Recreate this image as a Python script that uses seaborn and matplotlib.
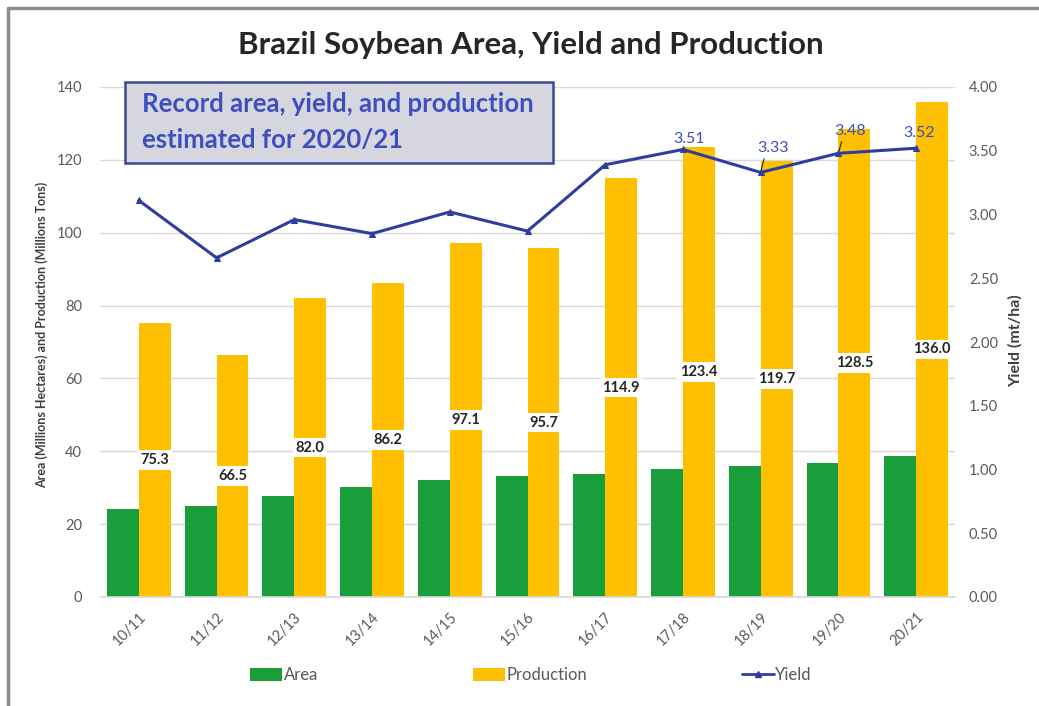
import numpy as np
import pandas as pd
import matplotlib.pyplot as plt
import seaborn as sns
from matplotlib.patches import Rectangle, Patch
from matplotlib.lines import Line2D

# data
years = ["10/11", "11/12", "12/13", "13/14", "14/15", "15/16",
         "16/17", "17/18", "18/19", "19/20", "20/21"]
area = [24.2, 25.0, 27.7, 30.2, 32.1, 33.3, 33.9, 35.1, 35.9, 36.9, 38.6]
production = [75.3, 66.5, 82.0, 86.2, 97.1, 95.7, 114.9, 123.4, 119.7, 128.5, 136.0]
yields = [3.11, 2.66, 2.96, 2.85, 3.02, 2.87, 3.39, 3.51, 3.33, 3.48, 3.52]
labeled_yield_idx = [7, 8, 9, 10]

GREEN = "#1A9E3C"
GOLD = "#FFC000"
BLUE = "#2F3E9E"
TEXT_BLUE = "#3D4FBF"
GRAY = "#595959"

sns.set_theme(style="white")
plt.rcParams['font.family'] = ['Lato', 'DejaVu Sans']

W, H = 1039, 706
fig = plt.figure(figsize=(W / 100, H / 100), dpi=100)
ax = fig.add_axes([100 / W, 1 - 597 / H, 855 / W, 510 / H])

df = pd.DataFrame({
    "year": years * 2,
    "value": area + production,
    "series": ["Area"] * len(years) + ["Production"] * len(years),
})
sns.barplot(data=df, x="year", y="value", hue="series",
            palette={"Area": GREEN, "Production": GOLD},
            width=0.82, saturation=1, linewidth=0, legend=False, ax=ax)

ax.bar_label(ax.containers[1], labels=[f"{v:.1f}" for v in production],
             label_type="center", fontsize=10.5, fontweight="bold", color="#262626",
             bbox=dict(fc="white", ec="none", pad=2))

ax.set_ylim(0, 140)
ax.set_xlim(-0.5, len(years) - 0.5)
ax.set_yticks(range(0, 141, 20))
ax.set_axisbelow(True)
ax.yaxis.grid(True, color="#D9D9D9", lw=1)
ax.set_xlabel("")
ax.set_ylabel("")
for s in ["top", "right", "left"]:
    ax.spines[s].set_visible(False)
ax.spines["bottom"].set_color("#D9D9D9")
ax.tick_params(axis="y", length=0, pad=13, labelsize=10.5, labelcolor=GRAY)
ax.tick_params(axis="x", length=0, pad=9, labelsize=10.5, labelcolor=GRAY)
plt.setp(ax.get_xticklabels(), rotation=45, ha="right", rotation_mode="anchor")

ax2 = ax.twinx()
sns.lineplot(x=np.arange(len(years)), y=yields, ax=ax2, color=BLUE, lw=2.2,
             marker="^", markersize=5, markeredgecolor=BLUE)
ax2.set_ylim(0, 4)
ax2.set_xlim(-0.5, len(years) - 0.5)
ax2.set_yticks(np.arange(0, 4.01, 0.5))
ax2.set_yticklabels([f"{t:.2f}" for t in np.arange(0, 4.01, 0.5)])
ax2.tick_params(axis="y", length=0, pad=10, labelsize=10.5, labelcolor=GRAY)
for s in ax2.spines.values():
    s.set_visible(False)

# yield data labels (offsets in px -> points)
offsets = {7: (6, 3, False), 8: (12, 17, True), 9: (12, 15, True), 10: (3, 8, False)}
for i in labeled_yield_idx:
    dx, dy, leader = offsets[i]
    kw = {}
    if leader:
        kw["arrowprops"] = dict(arrowstyle="-", color="#222222", lw=0.8,
                                shrinkA=0, shrinkB=2, relpos=(0.25, 0))
    ax2.annotate(f"{yields[i]:.2f}", xy=(i, yields[i]),
                 xytext=(dx * 0.72, dy * 0.72), textcoords="offset points",
                 ha="center", va="bottom", fontsize=11.5, color=TEXT_BLUE, **kw)

# title and axis titles
fig.text(531 / W, 1 - 45 / H, "Brazil Soybean Area, Yield and Production",
         ha="center", va="center", fontsize=22.5, fontweight="bold", color="#262626")
fig.text(42 / W, 1 - 335 / H, "Area (Millions Hectares) and Production (Millions Tons)",
         rotation=90, ha="center", va="center", fontsize=9, fontweight="bold",
         color="#404040")
fig.text(1015 / W, 1 - 341 / H, "Yield (mt/ha)", rotation=90, ha="center",
         va="center", fontsize=11.5, fontweight="bold", color="#404040")

# callout box
fig.add_artist(Rectangle((125 / W, 1 - 163 / H), 428 / W, 81 / H,
                         transform=fig.transFigure, fc="#D6D7DE", ec="#3A4690",
                         lw=1.8, zorder=3))
fig.text(142 / W, 1 - 104 / H, "Record area, yield, and production",
         va="center", fontsize=18.5, fontweight="bold", color=TEXT_BLUE, zorder=4)
fig.text(142 / W, 1 - 140 / H, "estimated for 2020/21",
         va="center", fontsize=18.5, fontweight="bold", color=TEXT_BLUE, zorder=4)

# legend
handles = [Patch(fc=GREEN, ec="none"), Patch(fc=GOLD, ec="none"),
           Line2D([], [], color=BLUE, lw=2, marker="^", markersize=4)]
fig.legend(handles, ["Area", "Production", "Yield"], loc="center",
           bbox_to_anchor=(531 / W, 1 - 675 / H), ncol=3, frameon=False,
           fontsize=12, labelcolor=GRAY, handlelength=1.9, handleheight=0.85,
           handletextpad=0.1, columnspacing=9.3)

# chart frame (left and top edges visible)
fig.add_artist(Line2D([8 / W, 8 / W], [0, 1 - 8 / H], transform=fig.transFigure,
                      color="#8C8C8C", lw=2.5))
fig.add_artist(Line2D([8 / W, 1], [1 - 8 / H, 1 - 8 / H], transform=fig.transFigure,
                      color="#8C8C8C", lw=2.5))

fig.savefig("out.png", dpi=100)
